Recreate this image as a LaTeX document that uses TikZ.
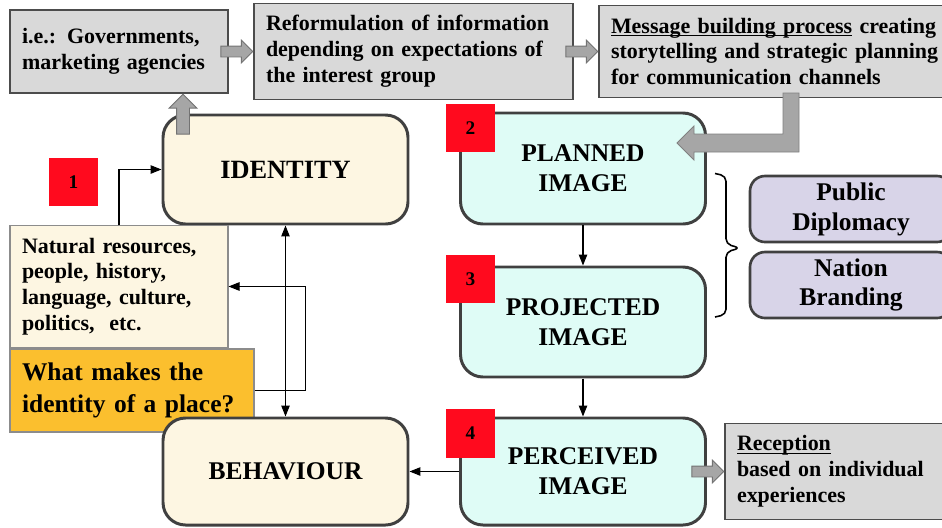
\documentclass[tikz,border=0pt]{standalone}
\usepackage{fontspec}
\setmainfont{Liberation Serif}
\newsavebox{\ulsave}
\newcommand{\ulword}[1]{\sbox{\ulsave}{#1}\rlap{\rule[-1.6pt]{\wd\ulsave}{0.6pt}}\usebox{\ulsave}}
\usetikzlibrary{arrows.meta,shapes.arrows,calc}
\definecolor{boxgray}{HTML}{D9D9D9}
\definecolor{arrowgray}{HTML}{A6A6A6}
\definecolor{cream}{HTML}{FDF6E2}
\definecolor{mint}{HTML}{DFFCF6}
\definecolor{lavender}{HTML}{D8D4E8}
\definecolor{amber}{HTML}{FBBF2E}
\definecolor{redmark}{HTML}{FF0A1E}
\tikzset{
  infobox/.style={draw=black!70, line width=0.6pt, align=left, inner sep=0.24cm,
    font=\bfseries\fontsize{12.5}{14.7}\selectfont},
  mainbox/.style={draw=black!75, line width=1.7pt, rounded corners=0.45cm, align=center,
    minimum width=4.9cm, font=\bfseries\fontsize{14.5}{17}\selectfont},
  sidebox/.style={draw=black!75, line width=1.5pt, rounded corners=0.3cm, fill=lavender,
    align=center, minimum width=4.04cm, minimum height=1.32cm,
    font=\bfseries\fontsize{14.5}{17}\selectfont},
  numbox/.style={fill=redmark, minimum size=0.97cm, inner sep=0pt,
    font=\bfseries\fontsize{11}{13}\selectfont},
  blockarrow/.style={single arrow, draw=black!55, fill=arrowgray, line width=0.5pt,
    inner xsep=0pt, inner ysep=0.1cm, single arrow head extend=0.12cm,
    minimum height=0.64cm},
  link/.style={-{Triangle[length=2.2mm,width=1.7mm]}, line width=0.6pt}
}
\begin{document}
\begin{tikzpicture}
    \useasboundingbox (0,0) rectangle (18.84,-10.56);

    % top row
    \node[infobox, fill=boxgray, text width=3.88cm, minimum height=1.66cm] (GOV) at (2.38,-1.03)
        {i.e.: Governments,\\marketing agencies};
    \node[infobox, fill=boxgray, text width=5.9cm, minimum height=1.66cm] (REF) at (8.27,-1.03)
        {Reformulation of information\\depending on expectations of\\the interest group};
    \node[infobox, fill=boxgray, text width=7.2cm, minimum height=1.66cm] (MSG) at (15.82,-1.03)
        {\ulword{Message building process} creating\\storytelling and strategic planning\\for communication channels};

    \node[blockarrow, anchor=tip] (A1) at (REF.west) {};
    \node[blockarrow, anchor=tip] (A2) at (MSG.west) {};

    % left column
    \node[mainbox, fill=cream, minimum height=2.18cm, font=\bfseries\fontsize{15}{18}\selectfont] (ID) at (5.71,-3.39) {IDENTITY};
    \node[infobox, fill=cream, draw=black!45, text width=3.88cm, minimum height=2.06cm] (NAT) at (2.38,-5.73)
        {Natural resources,\\people, history,\\language, culture,\\politics,~ etc.};
    \node[infobox, fill=amber, draw=black!45, text width=4.4cm, minimum height=1.66cm,
        font=\bfseries\fontsize{14.5}{18}\selectfont] (WHAT) at (2.64,-7.81)
        {What makes the\\identity of a place?};
    \node[mainbox, fill=cream, minimum height=2.14cm] (BEH) at (5.71,-9.43) {BEHAVIOUR};
    \node[numbox] (N1) at (1.47,-3.64) {1};

    \node[blockarrow, shape border rotate=90, anchor=tip, inner sep=0.12cm,
        single arrow head extend=0.15cm, minimum height=0.8cm] (A3) at ($(GOV.south)+(1.28,0)$) {};

    \draw[link] (NAT.north) |- (ID.west);
    \draw[link, {Triangle[length=2.2mm,width=1.7mm]}-{Triangle[length=2.2mm,width=1.7mm]}] (ID.south) -- (BEH.north);
    \draw[link] (WHAT.east) -- ++(1.02,0) |- (NAT.east);

    % right column
    \node[mainbox, fill=mint, minimum height=2.22cm] (PLAN) at (11.66,-3.37) {PLANNED\\IMAGE};
    \node[mainbox, fill=mint, minimum height=2.2cm] (PROJ) at (11.66,-6.44) {PROJECTED\\IMAGE};
    \node[mainbox, fill=mint, minimum height=2.14cm] (PERC) at (11.66,-9.43) {PERCEIVED\\IMAGE};
    \node[numbox] (N2) at (9.41,-2.56) {2};
    \node[numbox] (N3) at (9.41,-5.58) {3};
    \node[numbox] (N4) at (9.41,-8.67) {4};

    \draw[link] (PLAN.south) -- (PROJ.north);
    \draw[link] (PROJ.south) -- (PERC.north);
    \draw[link] (PERC.west) -- (BEH.east);

    % elbow arrow from the message box
    \draw[draw=black!50, fill=arrowgray, line width=0.5pt]
        (15.66,-1.86) -- (15.98,-1.86) -- (15.98,-3.04) -- (13.88,-3.04) -- (13.88,-3.2)
        -- (13.54,-2.86) -- (13.88,-2.52) -- (13.88,-2.68) -- (15.66,-2.68) -- cycle;

    \node[sidebox] (PD) at (17.02,-4.18) {Public\\Diplomacy};
    \node[sidebox] (NB) at (17.02,-5.7) {Nation\\Branding};
    % brace
    \draw[line width=0.9pt, rounded corners=3pt] (14.3,-3.47) -- (14.52,-3.52) -- (14.52,-4.88)
        -- (14.8,-4.96) -- (14.52,-5.04) -- (14.52,-6.29) -- (14.3,-6.34);

    \node[infobox, fill=boxgray, text width=4.0cm, minimum height=1.66cm] (REC) at (16.74,-9.43)
        {\ulword{Reception}\\based on individual\\experiences};
    \node[blockarrow, anchor=tip] (A4) at (REC.west) {};
\end{tikzpicture}
\end{document}
